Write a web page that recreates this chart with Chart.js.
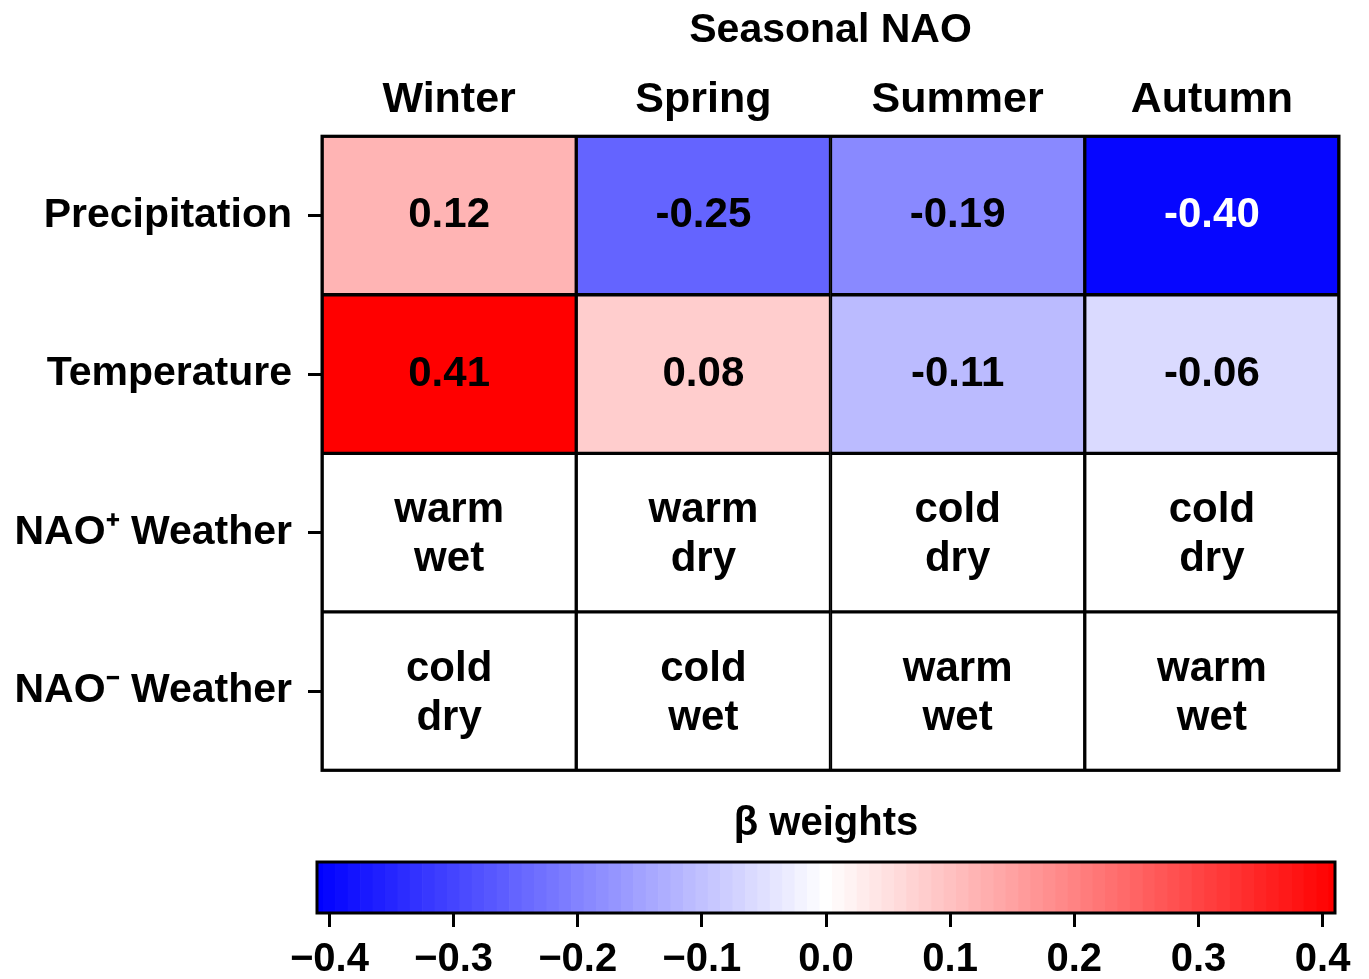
<!DOCTYPE html>
<html>
<head>
<meta charset="utf-8">
<title>Seasonal NAO β weights</title>
<script src="https://cdn.jsdelivr.net/npm/chart.js@4.4.1/dist/chart.umd.min.js"></script>
<style>
  html, body { margin: 0; padding: 0; background: #fff; overflow: hidden; }
  #heatmap { position: absolute; left: 0; top: 0; }
  #colorbar { position: absolute; left: 0; top: 780px; }
</style>
</head>
<body>
<canvas id="heatmap" width="1369" height="811"></canvas>
<canvas id="colorbar" width="1369" height="199"></canvas>
<script>
// values
const seasons = ['Winter', 'Spring', 'Summer', 'Autumn'];
const rowLabels = ['Precipitation', 'Temperature', 'NAO\u207A Weather', 'NAO\u207B Weather'];
const precipitation = [0.12, -0.25, -0.19, -0.40];
const temperature = [0.41, 0.08, -0.11, -0.06];
const naoPlusWeather = [['warm', 'wet'], ['warm', 'dry'], ['cold', 'dry'], ['cold', 'dry']];
const naoMinusWeather = [['cold', 'dry'], ['cold', 'wet'], ['warm', 'wet'], ['warm', 'wet']];
const colorbarTicks = [-0.4, -0.3, -0.2, -0.1, 0, 0.1, 0.2, 0.3, 0.4];
const colorLimit = 0.41;

const rows = [precipitation, temperature, naoPlusWeather, naoMinusWeather];
const FONT = '"Liberation Sans", Arial, sans-serif';

// blue - white - red, white at 0
function colorFor(v) {
    const t = Math.min(Math.abs(v) / colorLimit, 1);
    const c = Math.round(255 * (1 - t));
    return v >= 0 ? `rgb(255,${c},${c})` : `rgb(${c},${c},255)`;
}

// colour steps of the legend bar, one per 0.01
const colorbarSteps = [];
for (let i = -41; i <= 41; i++) colorbarSteps.push(i / 100);

const frame = {
    id: 'frame',
    afterDatasetsDraw(chart) {
        const a = chart.chartArea;
        const ctx = chart.ctx;
        ctx.save();
        ctx.lineWidth = 3;
        ctx.strokeStyle = '#000';
        ctx.strokeRect(a.left, a.top, a.right - a.left, a.bottom - a.top);
        ctx.restore();
    }
};

const cellLabels = {
    id: 'cellLabels',
    afterDatasetsDraw(chart) {
        const ctx = chart.ctx;
        ctx.save();
        ctx.font = 'bold 42px ' + FONT;
        ctx.textAlign = 'center';
        ctx.textBaseline = 'middle';
        rows.forEach((row, r) => {
            chart.getDatasetMeta(r).data.forEach((bar, c) => {
                const cx = bar.x;
                const cy = (bar.y + bar.base) / 2;
                const v = row[c];
                if (typeof v === 'number') {
                    ctx.fillStyle = v < -0.3 ? '#fff' : '#000';
                    ctx.fillText(v.toFixed(2), cx, cy);
                } else {
                    ctx.fillStyle = '#000';
                    ctx.fillText(v[0], cx, cy - 22);
                    ctx.fillText(v[1], cx, cy + 27);
                }
            });
        });
        ctx.restore();
    }
};

const datasets = rows.map((row, r) => ({
    label: rowLabels[r],
    data: seasons.map(() => [r, r + 1]),
    backgroundColor: row.map(v => typeof v === 'number' ? colorFor(v) : '#ffffff'),
    borderColor: '#000',
    borderWidth: 2,
    borderSkipped: false,
    barPercentage: 1,
    categoryPercentage: 1,
    grouped: false
}));

new Chart(document.getElementById('heatmap'), {
    type: 'bar',
    data: { labels: seasons, datasets: datasets },
    options: {
        responsive: false,
        animation: false,
        layout: { padding: { left: 0, right: 30, top: 0, bottom: 0 } },
        plugins: {
            legend: { display: false },
            tooltip: { enabled: false },
            title: {
                display: true,
                text: 'Seasonal NAO',
                fullSize: false,
                color: '#000',
                font: { family: FONT, size: 41, weight: 'bold' },
                padding: { top: 6, bottom: 0 }
            }
        },
        scales: {
            x: {
                type: 'category',
                position: 'top',
                offset: true,
                grid: { display: false, drawTicks: false, tickLength: 0 },
                border: { display: false },
                ticks: {
                    color: '#000',
                    font: { family: FONT, size: 43, weight: 'bold' },
                    padding: 10,
                    maxRotation: 0,
                    autoSkip: false
                },
                afterFit: s => { s.height = 81; }
            },
            y: {
                type: 'linear',
                min: 0,
                max: 4,
                reverse: true,
                grid: { drawOnChartArea: false, drawTicks: true, tickLength: 14, color: '#000', lineWidth: 3 },
                border: { display: false },
                afterBuildTicks: s => { s.ticks = rowLabels.map((_, i) => ({ value: i + 0.5 })); },
                ticks: {
                    color: '#000',
                    font: { family: FONT, size: 41, weight: 'bold' },
                    padding: 16,
                    autoSkip: false,
                    callback: v => rowLabels[Math.floor(v)]
                },
                afterFit: s => { s.width = 322; }
            }
        }
    },
    plugins: [frame, cellLabels]
});

new Chart(document.getElementById('colorbar'), {
    type: 'bar',
    data: {
        datasets: [{
            data: colorbarSteps.map(v => ({ x: v, y: 1 })),
            backgroundColor: colorbarSteps.map(colorFor),
            borderWidth: 0,
            barPercentage: 1,
            categoryPercentage: 1
        }]
    },
    options: {
        responsive: false,
        animation: false,
        layout: { padding: { left: 317, right: 34, top: 0, bottom: 0 } },
        plugins: {
            legend: { display: false },
            tooltip: { enabled: false },
            title: {
                display: true,
                text: '\u03B2 weights',
                fullSize: false,
                color: '#000',
                font: { family: FONT, size: 40, weight: 'bold' },
                padding: { top: 20, bottom: 14 }
            }
        },
        scales: {
            x: {
                type: 'linear',
                min: -colorLimit,
                max: colorLimit,
                offset: false,
                afterBuildTicks: s => { s.ticks = colorbarTicks.map(v => ({ value: v })); },
                grid: { offset: false, drawOnChartArea: false, drawTicks: true, tickLength: 14, color: '#000', lineWidth: 3 },
                border: { display: false },
                ticks: {
                    color: '#000',
                    font: { family: FONT, size: 40, weight: 'bold' },
                    padding: 9,
                    maxRotation: 0,
                    autoSkip: false,
                    callback: v => (v < 0 ? '\u2212' : '') + Math.abs(v).toFixed(1)
                },
                afterFit: s => { s.height = 66; }
            },
            y: { type: 'linear', min: 0, max: 1, display: false }
        }
    },
    plugins: [frame]
});
</script>
</body>
</html>
